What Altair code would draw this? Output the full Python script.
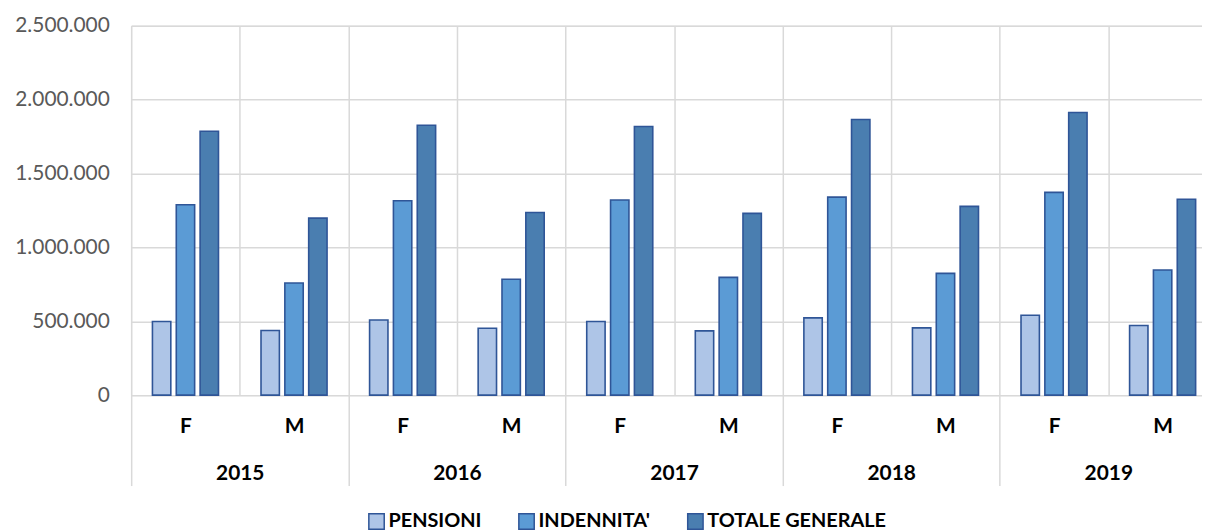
import altair as alt
import pandas as pd

years = ["2015", "2016", "2017", "2018", "2019"]
sexes = ["F", "M"]
series = ["PENSIONI", "INDENNITA'", "TOTALE GENERALE"]
colors = ["#AEC5E7", "#5B9BD5", "#4A7EB0"]

pensioni_F = [498000, 509000, 498000, 523000, 541000]
pensioni_M = [437000, 453000, 435000, 455000, 471000]
indennita_F = [1288000, 1315000, 1320000, 1340000, 1372000]
indennita_M = [759000, 784000, 797000, 824000, 847000]
totale_F = [1786000, 1826000, 1818000, 1865000, 1912000]
totale_M = [1198000, 1236000, 1230000, 1277000, 1326000]

y_ticks = [0, 500000, 1000000, 1500000, 2000000, 2500000]

vals = {
    ("PENSIONI", "F"): pensioni_F, ("PENSIONI", "M"): pensioni_M,
    ("INDENNITA'", "F"): indennita_F, ("INDENNITA'", "M"): indennita_M,
    ("TOTALE GENERALE", "F"): totale_F, ("TOTALE GENERALE", "M"): totale_M,
}
rows = []
for i, yr in enumerate(years):
    for sx in sexes:
        for s in series:
            rows.append({"cat": f"{yr} {sx}", "year": yr, "sex": sx,
                         "serie": s, "value": vals[(s, sx)][i]})
df = pd.DataFrame(rows)
cats = [f"{yr} {sx}" for yr in years for sx in sexes]
df_years = pd.DataFrame({"year": years})

FONT = "Lato"
GRID = "#D9D9D9"

y_enc = alt.Y("value:Q",
              scale=alt.Scale(domain=[0, 2500000], nice=False),
              axis=alt.Axis(values=y_ticks, title=None, domain=False, ticks=False,
                            labelExpr="replace(replace(format(datum.value, ',d'), ',', '.'), ',', '.')",
                            labelFont=FONT, labelFontSize=21, labelColor="#595959",
                            labelPadding=22, gridColor=GRID, gridWidth=1.5))

bars = alt.Chart(df).mark_bar(stroke="#2F5597", strokeWidth=1.6).encode(
    x=alt.X("cat:N", sort=cats,
            scale=alt.Scale(domain=cats, paddingInner=0, paddingOuter=0),
            axis=alt.Axis(title=None, orient="bottom", domain=False, ticks=False,
                          grid=True, tickBand="extent", gridColor=GRID, gridWidth=1.5,
                          labelExpr="split(datum.value, ' ')[1]", labelAngle=0,
                          labelFont=FONT, labelFontSize=21, labelFontWeight="bold",
                          labelColor="#000000", labelPadding=21)),
    xOffset=alt.XOffset("serie:N", sort=series,
                        scale=alt.Scale(domain=series, paddingInner=0.229, paddingOuter=0.892)),
    y=y_enc,
    color=alt.Color("serie:N", sort=series,
                    scale=alt.Scale(domain=series, range=colors),
                    legend=alt.Legend(title=None, orient="none", direction="horizontal",
                                      legendX=237, legendY=489,
                                      symbolType="square", symbolSize=240,
                                      symbolStrokeColor="#2F5597", symbolStrokeWidth=1.5,
                                      symbolOpacity=1,
                                      labelFont=FONT, labelFontSize=20, labelFontWeight="bold",
                                      labelColor="#000000", labelOffset=2, labelLimit=400,
                                      columnPadding=34)),
)

year_layer = alt.Chart(df_years).mark_point(opacity=0).encode(
    x=alt.X("year:N", sort=years,
            scale=alt.Scale(domain=years, paddingInner=0, paddingOuter=0),
            axis=alt.Axis(title=None, orient="bottom", domain=False, grid=False,
                          ticks=True, tickBand="extent", tickSize=91,
                          tickColor=GRID, tickWidth=1.5,
                          labelAngle=0, labelFont=FONT, labelFontSize=21,
                          labelFontWeight="bold", labelColor="#000000",
                          labelPadding=-23)),
    y=alt.datum(0),
)

chart = alt.layer(bars, year_layer).resolve_scale(x="independent").properties(
    width=1093, height=372,
    autosize=alt.AutoSizeParams(type="none"),
    padding={"left": 124, "top": 16, "right": -15, "bottom": 138},
).configure_view(stroke=None).configure(background="white")

chart.save("out.html", embed_options={"renderer": "svg", "actions": False})
